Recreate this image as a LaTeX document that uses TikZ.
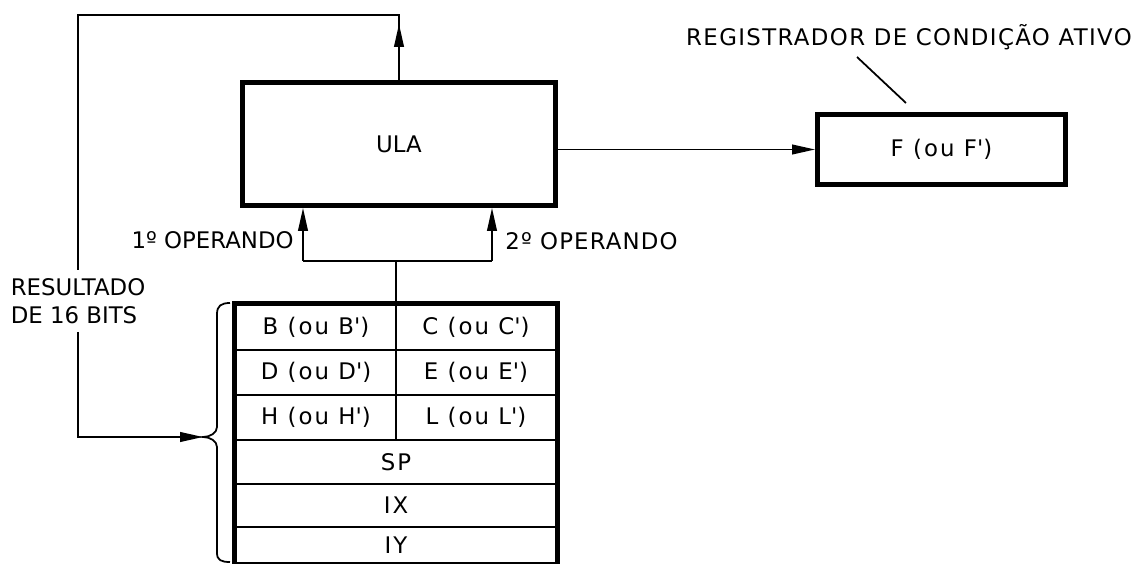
\documentclass[tikz,border=0pt]{standalone}
\usepackage{fontspec}
\setmainfont{DejaVu Sans}
\usetikzlibrary{arrows.meta, positioning}

\begin{document}
\begin{tikzpicture}[x=0.2mm, y=-0.2mm,
    font=\fontsize{13}{16}\selectfont,
    wire/.style={line width=1pt},
    arr/.style={wire, -{Triangle[length=13pt,width=5.5pt]}},
    bigbox/.style={draw, line width=2.8pt, inner sep=0pt},
    cell/.style={draw, line width=1.6pt, inner sep=0pt,
                 font=\fontsize{13}{16}\selectfont\addfontfeature{LetterSpace=9}},
    half/.style={cell, minimum width=3.2cm},
    full/.style={cell, minimum width=6.4cm},
    lbl/.style={inner sep=0pt}]
  \useasboundingbox (0,0) rectangle (1137,564);

  % ULA e registrador de condicao
  \node[bigbox, minimum width=6.26cm, minimum height=2.46cm] (ula) at (399,144) {ULA};
  \node[bigbox, minimum width=4.96cm, minimum height=1.4cm,
        font=\fontsize{13}{16}\selectfont\addfontfeature{LetterSpace=9}] (f) at (941.5,149.5)
    {F (ou F\textquotesingle)};
  \node[lbl, anchor=base, font=\fontsize{13}{16}\selectfont\addfontfeature{LetterSpace=6}]
    (cond) at (909,46) {REGISTRADOR DE CONDIÇÃO ATIVO};
  \coordinate (ldra) at (857,57);
  \coordinate (ldrb) at (906,103);
  \draw[wire] (ldra) -- (ldrb);
  \draw[arr] (ula.east |- f.west) -- (f.west);

  % banco de registradores
  \node[half, minimum height=0.9cm] (b) at (316,327.5) {B (ou B\textquotesingle)};
  \node[half, minimum height=0.9cm] (c) at (476,327.5) {C (ou C\textquotesingle)};
  \node[half, minimum height=0.9cm] (d) at (316,372.5) {D (ou D\textquotesingle)};
  \node[half, minimum height=0.9cm] (e) at (476,372.5) {E (ou E\textquotesingle)};
  \node[half, minimum height=0.9cm] (h) at (316,417.5) {H (ou H\textquotesingle)};
  \node[half, minimum height=0.9cm] (l) at (476,417.5) {L (ou L\textquotesingle)};
  \node[full, minimum height=0.88cm] (sp) at (396,462) {SP};
  \node[full, minimum height=0.86cm] (ix) at (396,505.5) {IX};
  \node[full, minimum height=0.72cm] (iy) at (396,545) {IY};
  \draw[line width=2.8pt] (b.north west) rectangle (iy.south east);

  % operandos
  \coordinate (opj) at (396,261);
  \coordinate (op1) at (303,261);
  \coordinate (op2) at (492,261);
  \draw[wire] (opj |- b.north) -- (opj);
  \draw[wire] (op1) -- (op2);
  \draw[arr] (op1) -- (op1 |- ula.south);
  \draw[arr] (op2) -- (op2 |- ula.south);
  \node[lbl, anchor=east] (op1lbl) at (294,240) {1º OPERANDO};
  \node[lbl, anchor=west, font=\fontsize{13}{16}\selectfont\addfontfeature{LetterSpace=5}]
    (op2lbl) at (505,241) {2º OPERANDO};

  % chave e resultado
  \coordinate (btip) at (203,437);
  \draw[wire] (230,303) .. controls (221,303) and (217,306) .. (217,314)
    -- (217,427) .. controls (217,433) and (210,437) .. (btip)
    .. controls (210,437) and (217,441) .. (217,447)
    -- (217,553) .. controls (217,560) and (221,562) .. (230,562);
  \node[lbl, align=left, inner ysep=4.5pt] (res) at (78,301) {RESULTADO\\DE 16 BITS};
  \coordinate (topl) at (78,15);
  \coordinate (topr) at (ula.north |- topl);
  \draw[wire] (ula.north) -- (topr) -- (topl) -- (res.north);
  \draw[arr] (ula.north) -- ([yshift=-0.18cm]topr);
  \draw[arr] (res.south) |- (btip);
\end{tikzpicture}
\end{document}
